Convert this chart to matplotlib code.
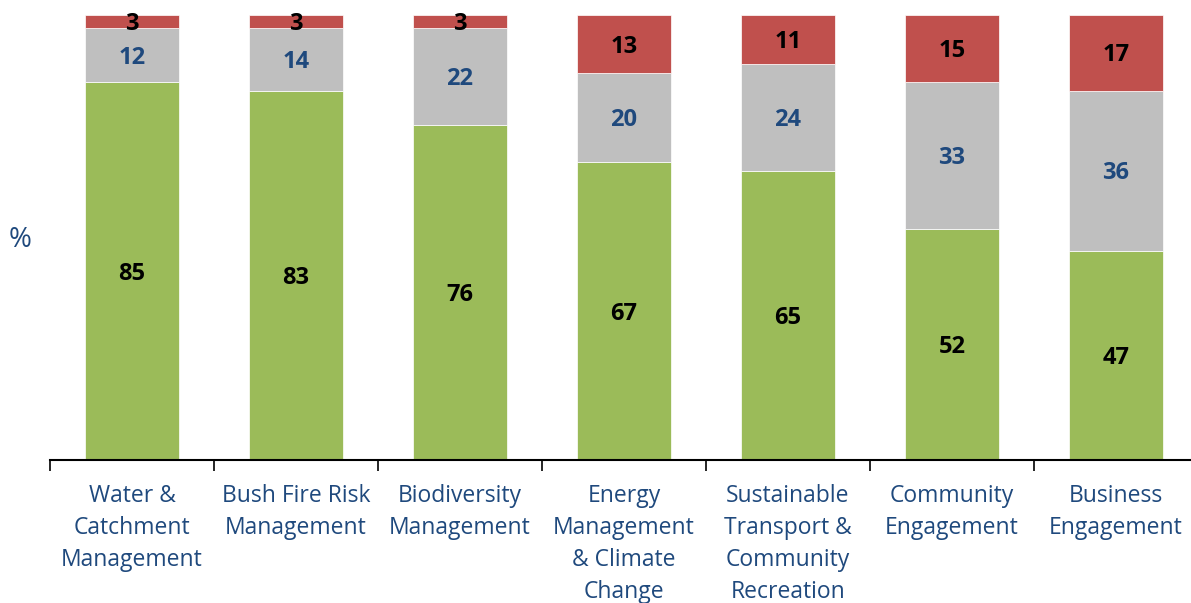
import numpy as np
import matplotlib.pyplot as plt

categories = ["Water &\nCatchment\nManagement", "Bush Fire Risk\nManagement",
              "Biodiversity\nManagement", "Energy\nManagement\n& Climate\nChange",
              "Sustainable\nTransport &\nCommunity\nRecreation", "Community\nEngagement",
              "Business\nEngagement"]
green_vals = [85, 83, 76, 67, 65, 52, 47]
grey_vals = [12, 14, 22, 20, 24, 33, 36]
red_vals = [3, 3, 3, 13, 11, 15, 17]

plt.rcParams['font.family'] = ['Open Sans', 'DejaVu Sans']
blue = '#1F497D'

fig = plt.figure(figsize=(11.91, 6.03), dpi=100)
ax = fig.add_axes([50 / 1191, 143 / 603, 1148 / 1191, 445 / 603])

x = np.arange(len(categories))
series = [(green_vals, '#9BBB59', 'black'), (grey_vals, '#BFBFBF', blue), (red_vals, '#C0504D', 'black')]
totals = np.sum([green_vals, grey_vals, red_vals], axis=0)
bottom = np.zeros(len(categories))
for vals, col, tcol in series:
    pct = np.array(vals) / totals * 100
    ax.bar(x, pct, 0.57, bottom=bottom, color=col, edgecolor='white', linewidth=0.5)
    for xi, b, h, v in zip(x, bottom, pct, vals):
        ax.text(xi, b + h / 2 - 0.6, str(v), ha='center', va='center', fontsize=17,
                fontweight='bold', color=tcol)
    bottom += pct

ax.set_xlim(-0.5, len(categories) - 0.5)
ax.set_ylim(0, 100)
ax.set_yticks([])
for s in ['top', 'right', 'left']:
    ax.spines[s].set_visible(False)
ax.spines['bottom'].set_linewidth(1.5)

ax.set_xticks(np.arange(len(categories) + 1) - 0.5)
ax.set_xticklabels([])
ax.tick_params(axis='x', length=8, width=1.2, direction='out')
for xi, lab in zip(x, categories):
    ax.text(xi, -5.3, lab, ha='center', va='top', fontsize=16.5, color=blue,
            linespacing=1.46)

fig.text(20 / 1191, 1 - 240 / 603, '%', ha='center', va='center', fontsize=20, color=blue)

fig.savefig('out.png', dpi=100)
